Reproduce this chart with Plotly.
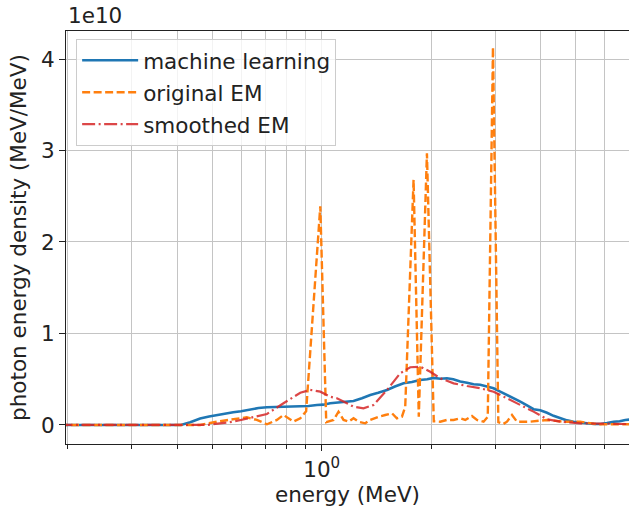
import plotly.graph_objects as go

# energies (MeV) and densities (units of 1e10 MeV/MeV)
ml_energy = [0.19, 0.30, 0.41, 0.435, 0.463, 0.49, 0.515, 0.54, 0.571, 0.60, 0.636, 0.67, 0.707,
             0.745, 0.784, 0.83, 0.873, 0.92, 0.970, 1.01, 1.055, 1.101, 1.16, 1.223, 1.29, 1.36,
             1.43, 1.512, 1.59, 1.679, 1.77, 1.866, 1.95, 2.03, 2.12, 2.21, 2.30, 2.404, 2.51,
             2.616, 2.729, 2.848, 2.969, 3.097, 3.232, 3.37, 3.517, 3.67, 3.825, 3.99, 4.164,
             4.34, 4.531, 4.73, 4.928, 5.14, 5.365, 5.6, 5.838, 6.09, 6.35, 6.6, 6.84, 7.1]
ml_density = [0.0, 0.0, 0.0, 0.030, 0.070, 0.092, 0.109, 0.118, 0.139, 0.150, 0.172, 0.185, 0.193,
              0.196, 0.200, 0.197, 0.200, 0.207, 0.219, 0.222, 0.237, 0.244, 0.250, 0.262, 0.292, 0.328,
              0.352, 0.383, 0.420, 0.456, 0.470, 0.492, 0.500, 0.514, 0.505, 0.510, 0.500, 0.475, 0.462,
              0.445, 0.440, 0.419, 0.401, 0.364, 0.328, 0.300, 0.255, 0.215, 0.172, 0.160, 0.134,
              0.100, 0.073, 0.050, 0.036, 0.025, 0.018, 0.012, 0.011, 0.020, 0.036, 0.040, 0.055, 0.060]

em_energy = [0.19, 0.463, 0.515, 0.572, 0.622, 0.663, 0.707, 0.753, 0.785, 0.836, 0.873, 0.906,
             0.991, 1.029, 1.078, 1.112, 1.148, 1.185, 1.223, 1.262, 1.317, 1.36, 1.433, 1.495,
             1.56, 1.61, 1.662, 1.697, 1.789, 1.849, 1.947, 2.033, 2.118, 2.21, 2.305, 2.404,
             2.482, 2.589, 2.673, 2.787, 2.862, 2.958, 3.06, 3.157, 3.232, 3.337, 3.443, 3.747,
             4.164, 4.626, 5.141, 5.716, 6.35, 7.1]
em_density = [0.0, 0.0, 0.036, 0.062, 0.084, 0.055, 0.008, 0.055, 0.109, 0.036, 0.073, 0.15,
              2.39, 0.03, 0.055, 0.145, 0.055, 0.036, 0.073, 0.036, 0.018, 0.055, 0.09, 0.109,
              0.128, 0.073, 0.09, 0.2, 2.68, 0.09, 2.97, 0.04, 0.036, 0.055, 0.055, 0.073,
              0.055, 0.098, 0.055, 0.036, 0.09, 4.13, 0.03, 0.01, 0.036, 0.109, 0.036, 0.036,
              0.055, 0.036, 0.036, 0.008, 0.008, 0.008]

sm_energy = [0.19, 0.483, 0.572, 0.636, 0.707, 0.785, 0.873, 0.930, 0.991, 1.055, 1.101, 1.223,
             1.303, 1.388, 1.512, 1.644, 1.752, 1.866, 1.988, 2.118, 2.305, 2.509, 2.729, 2.969,
             3.232, 3.517, 3.825, 4.164, 4.531, 5.141, 6.0, 7.1]
sm_density = [0.0, 0.0, 0.036, 0.077, 0.120, 0.237, 0.352, 0.383, 0.364, 0.309, 0.292, 0.200,
              0.182, 0.219, 0.383, 0.565, 0.631, 0.637, 0.582, 0.510, 0.455, 0.426, 0.401, 0.364,
              0.292, 0.219, 0.146, 0.063, 0.036, 0.018, 0.012, 0.010]

x_major_ticks = [1.0]
x_major_labels = ["10<sup>0</sup>"]
x_minor_ticks = [0.2, 0.3, 0.4, 0.5, 0.6, 0.7, 0.8, 0.9, 2, 3, 4, 5, 6, 7]
y_ticks = [0, 1, 2, 3, 4]
y_labels = ["0", "1", "2", "3", "4"]

FONT = "DejaVu Sans"
FS = 21.5
TXT = "#222222"

fig = go.Figure()
fig.add_trace(go.Scatter(x=ml_energy, y=ml_density, mode="lines", name="machine learning",
                         line=dict(color="#1f77b4", width=2.6), legendgroup="a"))
fig.add_trace(go.Scatter(x=em_energy, y=em_density, mode="lines", name="original EM",
                         line=dict(color="#ff7f0e", width=2.4, dash="8px,3.5px"), legendgroup="b"))
fig.add_trace(go.Scatter(x=sm_energy, y=sm_density, mode="lines", name="smoothed EM",
                         line=dict(color="#d62728", width=2.2, dash="13px,3.5px,2px,3.5px"),
                         opacity=0.85, legendgroup="c"))

fig.update_layout(
    width=629, height=508,
    margin=dict(l=66, r=0, t=31, b=64),
    paper_bgcolor="white", plot_bgcolor="white",
    font=dict(family=FONT, size=FS, color=TXT),
    showlegend=True,
    legend=dict(x=0.018, y=0.981, xanchor="left", yanchor="top",
                bgcolor="rgba(255,255,255,0.8)", bordercolor="#cccccc", borderwidth=1,
                font=dict(family=FONT, size=FS, color=TXT), tracegroupgap=1, itemwidth=56),
    xaxis=dict(
        type="log", range=[-0.7033, 0.8451],
        tickmode="array", tickvals=x_major_ticks, ticktext=x_major_labels,
        ticks="outside", ticklen=6, tickwidth=1.1, tickcolor="#222",
        showgrid=True, gridcolor="#c4c4c4", gridwidth=1,
        showline=True, linecolor="#222", linewidth=1.2, mirror=True,
        minor=dict(tickmode="array", tickvals=x_minor_ticks, ticks="outside", ticklen=3.5,
                   tickcolor="#222", showgrid=True, gridcolor="#c4c4c4", gridwidth=1),
        title=dict(text="energy (MeV)", standoff=6, font=dict(family=FONT, size=FS, color=TXT)),
        zeroline=False,
    ),
    yaxis=dict(
        range=[-0.208, 4.306],
        tickmode="array", tickvals=y_ticks, ticktext=y_labels,
        ticks="outside", ticklen=6, tickwidth=1.1, tickcolor="#222",
        showgrid=True, gridcolor="#c4c4c4", gridwidth=1,
        showline=True, linecolor="#222", linewidth=1.2, mirror=True,
        title=dict(text="photon energy density (MeV/MeV)", standoff=8,
                   font=dict(family=FONT, size=FS, color=TXT)),
        zeroline=False,
    ),
    annotations=[dict(text="1e10", xref="paper", yref="paper", x=0, y=1, xanchor="left",
                      yanchor="bottom", yshift=1, showarrow=False,
                      font=dict(family=FONT, size=FS, color=TXT))],
)

fig.write_html("out.html")
